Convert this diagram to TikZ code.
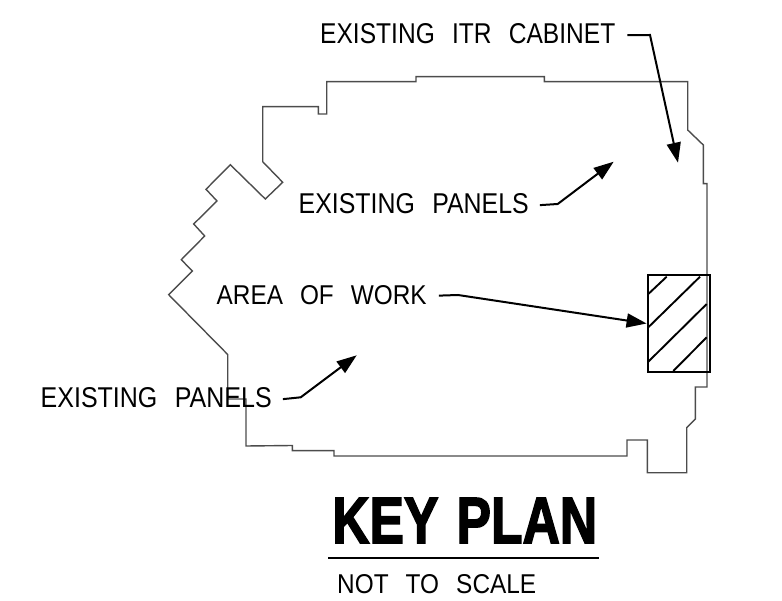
\documentclass[tikz,border=0pt]{standalone}
\usepackage{fontspec}
\usepackage{graphicx}
\setmainfont{Liberation Sans}
\newfontfamily\titlefont[UprightFont={* Bold},FakeBold=2.5]{Liberation Sans}
\usetikzlibrary{arrows.meta}
\newcommand{\cadtext}[3]{\resizebox{#1pt}{#2pt}{#3}}
\newcommand{\wgap}{\hspace{0.7em}}
\tikzset{
  outline/.style={draw=black!70,line width=1.4pt,line join=miter},
  label/.style={inner sep=0pt,anchor=base west,text=black},
  leader/.style={draw=black,line width=2pt,-{Triangle[length=20pt,width=14pt]}},
  workbox/.style={draw=black,line width=2.2pt,minimum width=62.6pt,minimum height=96.4pt,inner sep=0pt},
  hatch/.style={draw=black,line width=1.9pt},
  rule/.style={draw=black,line width=2pt}
}
\begin{document}
\begin{tikzpicture}[x=1pt,y=-1pt]
\useasboundingbox (0,0) rectangle (782,601);
\draw[outline] (326.7,81.7) -- (326.7,114) -- (318.3,114) -- (318.3,106.7) -- (262.7,106.7) -- (262.7,161.7)
  -- (282.7,182.3) -- (265.3,199) -- (230.3,164.7) -- (206,189.3) -- (217,201) -- (193.7,224) -- (204.7,236)
  -- (181.3,259.7) -- (192.3,271) -- (168.7,294.7) -- (227.7,354.5) -- (227.7,399) -- (246,399) -- (246,446)
  -- (292.3,445.5) -- (292.3,450.7) -- (334,450.7) -- (334,456) -- (627,456) -- (627,440) -- (647.3,440)
  -- (647.3,472.7) -- (686.7,472.7) -- (686.7,427.7) -- (695.3,419) -- (695.3,387) -- (707,387) -- (707,183.7)
  -- (703.3,183.7) -- (703.3,145) -- (687.7,130) -- (687.7,81.7) -- (544.3,81.7) -- (544.3,76.7) -- (416,76.7)
  -- (416,81.7) -- cycle;
\node[workbox] (work) at (679,323.5) {};
\draw[hatch] (648.3,294) -- (666.7,276.7);
\draw[hatch] (648.3,327.3) -- (700,276.7);
\draw[hatch] (648.3,361.7) -- (706.7,304);
\draw[hatch] (673.3,371) -- (706.7,337.3);

\node[label] (itr) at (320,44) {\cadtext{295}{20}{EXISTING\wgap ITR\wgap CABINET}};
\node[label] (panelsup) at (298.5,214) {\cadtext{230}{20}{EXISTING\wgap PANELS}};
\node[label] (area) at (216.5,305) {\cadtext{210}{19}{AREA\wgap OF\wgap WORK}};
\node[label] (panelslow) at (40.5,408) {\cadtext{231}{20}{EXISTING\wgap PANELS}};
\node[label] (title) at (332,543) {\cadtext{265}{45}{\titlefont KEY\hspace{0.35em}PLAN}};
\node[label] (nts) at (337,593) {\cadtext{199}{19}{NOT\wgap TO\wgap SCALE}};

\coordinate (itrbend) at (650,35);
\coordinate (itrtip) at (678,162.7);
\coordinate (upbend) at (557.7,204);
\coordinate (uptip) at (613.7,161.7);
\coordinate (areabend) at (458,295);
\coordinate (lowbend) at (300.7,397.3);
\coordinate (lowtip) at (356.7,355.3);
\draw[leader] ([xshift=12pt,yshift=-1pt]itr.east) -- (itrbend) -- (itrtip);
\draw[leader] ([xshift=11pt,yshift=-1pt]panelsup.east) -- (upbend) -- (uptip);
\draw[leader] ([xshift=12pt]area.east) -- (areabend) -- (work.west);
\draw[leader] ([xshift=11pt,yshift=-1pt]panelslow.east) -- (lowbend) -- (lowtip);
\coordinate (rulea) at (328,558.3);
\coordinate (ruleb) at (599.3,558.3);
\draw[rule] (rulea) -- (ruleb);
\end{tikzpicture}
\end{document}
